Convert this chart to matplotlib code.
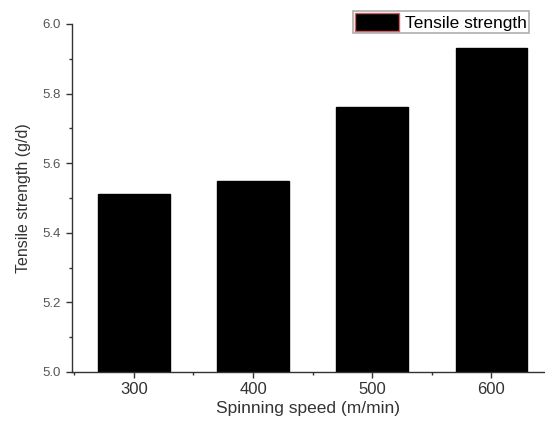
import matplotlib.pyplot as plt
from matplotlib.ticker import MultipleLocator

plt.rcParams['font.family'] = ['Liberation Sans', 'DejaVu Sans']

# spinning speed (m/min) vs tensile strength (g/d)
speeds = [300, 400, 500, 600]
strength = [5.51, 5.55, 5.76, 5.93]

fig = plt.figure(figsize=(5.45, 4.28), dpi=100)
ax = fig.add_axes([0.132, 0.131, 0.868, 0.813])

ax.bar(speeds, strength, width=60, color='black', edgecolor='black',
       label='Tensile strength', zorder=2)

ax.set_xlim(248, 645)
ax.set_ylim(5.0, 6.0)
ax.set_xticks(speeds)
ax.xaxis.set_minor_locator(MultipleLocator(50))
ax.yaxis.set_major_locator(MultipleLocator(0.2))
ax.yaxis.set_minor_locator(MultipleLocator(0.1))
ax.yaxis.set_major_formatter(plt.FuncFormatter(lambda v, p: f'{v:.1f}'))

for s in ['top', 'right']:
    ax.spines[s].set_visible(False)
for s in ['left', 'bottom']:
    ax.spines[s].set_color('#333333')
    ax.spines[s].set_linewidth(1.0)

ax.tick_params(which='major', direction='out', length=4, width=1, colors='#333333')
ax.tick_params(which='minor', direction='out', length=2.5, width=1, colors='#333333')
ax.tick_params(axis='y', labelsize=9.5, labelcolor='#555555', pad=4)
ax.tick_params(axis='x', labelsize=12, labelcolor='#333333', pad=3)

ax.set_xlabel('Spinning speed (m/min)', fontsize=12.5, color='#333333', labelpad=3)
ax.set_ylabel('Tensile strength (g/d)', fontsize=11.5, color='#333333', labelpad=8)

leg = ax.legend(loc='upper right', bbox_to_anchor=(0.971, 0.975), bbox_transform=fig.transFigure,
                fontsize=12.5, frameon=True, fancybox=False, borderpad=0.15,
                handlelength=2.5, handleheight=1.15, handletextpad=0.35, borderaxespad=0)
leg.get_frame().set_edgecolor('#999999')
leg.get_frame().set_linewidth(1.2)
leg.legend_handles[0].set_edgecolor('#d06060')

fig.savefig('out.png', dpi=100)
